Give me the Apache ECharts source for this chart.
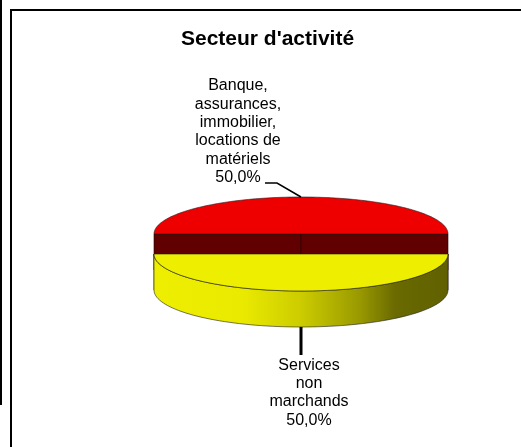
<!DOCTYPE html>
<html>
<head>
<meta charset="utf-8">
<script src="https://cdn.jsdelivr.net/npm/echarts@6/dist/echarts.min.js"></script>
<style>
html, body { margin:0; padding:0; background:#fff; }
#chart { width:521px; height:447px; }
</style>
</head>
<body>
<div id="chart"></div>
<script>
// donnees
var categories = ['Banque,\nassurances,\nimmobilier,\nlocations de\nmatériels', 'Services\nnon\nmarchands'];
var values = [50.0, 50.0];

// apparence
var sliceColors = ['#ee0000', '#eeee00'];
var faceColors = ['#600000', '#707000'];
var explodeY = [0, 20];
var PIE = { cx: 301, cy: 234, rx: 147, ry: 37, depth: 36, start: Math.PI };
var labelLayout = [
    { leader: [[-24, -14], [-36, -14]], lw: 1.5, tx: -63, ty: -10, va: 'bottom' },
    { leader: [[0, 28]], lw: 3, tx: 8, ty: 29, va: 'top' }
];

var wallGradient = {
    type: 'linear', global: true,
    x: PIE.cx - PIE.rx, y: 0, x2: PIE.cx + PIE.rx, y2: 0,
    colorStops: [
        { offset: 0, color: '#eeee00' },
        { offset: 0.3, color: '#eaea00' },
        { offset: 0.5, color: '#cccc00' },
        { offset: 0.7, color: '#999900' },
        { offset: 0.82, color: '#6a6a00' },
        { offset: 1, color: '#606000' }
    ]
};
var wallFills = ['#600000', wallGradient];

function fmtPct(v, total) {
    return (v / total * 100).toFixed(1).replace('.', ',') + '%';
}

function pt(a, cy, dy) {
    return [PIE.cx + PIE.rx * Math.cos(a), cy + PIE.ry * Math.sin(a) + (dy || 0)];
}

function renderSlice(params, api) {
    var i = params.dataIndex;
    var total = 0, before = 0;
    for (var j = 0; j < values.length; j++) {
        total += values[j];
        if (j < i) before += values[j];
    }
    var start = PIE.start + before / total * Math.PI * 2;
    var end = start + values[i] / total * Math.PI * 2;
    var cy = PIE.cy + explodeY[i];
    var d = PIE.depth;
    var edge = { stroke: 'rgba(30,30,30,0.75)', lineWidth: 0.8 };
    var children = [];

    // faces radiales
    [start, end].forEach(function (a) {
        var p = pt(a, cy);
        children.push({
            type: 'polygon',
            shape: { points: [[PIE.cx, cy], p, [p[0], p[1] + d], [PIE.cx, cy + d]] },
            style: { fill: faceColors[i], stroke: '#200000', lineWidth: 0.6 }
        });
    });

    // paroi exterieure (partie visible, sin > 0)
    for (var k = 0; k < 3; k++) {
        var lo = Math.max(start, 2 * k * Math.PI);
        var hi = Math.min(end, 2 * k * Math.PI + Math.PI);
        if (hi - lo > 1e-3) {
            var up = [], down = [];
            for (var s = 0; s <= 80; s++) {
                var a = lo + (hi - lo) * s / 80;
                up.push(pt(a, cy));
                down.unshift(pt(a, cy, d));
            }
            children.push({
                type: 'polygon',
                shape: { points: up.concat(down) },
                style: { fill: wallFills[i], stroke: edge.stroke, lineWidth: edge.lineWidth }
            });
        }
    }

    // dessus
    var top = [[PIE.cx, cy]];
    for (var s2 = 0; s2 <= 120; s2++) {
        top.push(pt(start + (end - start) * s2 / 120, cy));
    }
    children.push({
        type: 'polygon',
        shape: { points: top },
        style: { fill: sliceColors[i], stroke: edge.stroke, lineWidth: edge.lineWidth }
    });

    // etiquette
    var mid = (start + end) / 2;
    var anchor = Math.sin(mid) < 0 ? pt(mid, cy) : pt(mid, cy, d);
    var lay = labelLayout[i];
    var line = [anchor];
    lay.leader.forEach(function (o) { line.push([anchor[0] + o[0], anchor[1] + o[1]]); });
    children.push({
        type: 'polyline',
        shape: { points: line },
        style: { stroke: '#000', lineWidth: lay.lw, fill: null }
    });
    children.push({
        type: 'text',
        x: anchor[0] + lay.tx,
        y: anchor[1] + lay.ty,
        style: {
            text: categories[i] + '\n' + fmtPct(values[i], total),
            fill: '#000',
            font: '16px "Liberation Sans", Arial, sans-serif',
            align: 'center', textAlign: 'center',
            verticalAlign: lay.va, textVerticalAlign: lay.va,
            lineHeight: 18.4
        }
    });

    return { type: 'group', children: children };
}

var chart = echarts.init(document.getElementById('chart'), null, { renderer: 'canvas' });
chart.setOption({
    backgroundColor: '#fff',
    animation: false,
    title: {
        text: "Secteur d'activité",
        left: 176,
        top: 24,
        textStyle: {
            fontFamily: '"Liberation Sans", Arial, sans-serif',
            fontSize: 21,
            fontWeight: 'bold',
            color: '#000'
        }
    },
    graphic: [
        { type: 'line', shape: { x1: 1, y1: 0, x2: 1, y2: 405 }, style: { stroke: '#000', lineWidth: 2 } },
        { type: 'line', shape: { x1: 11, y1: 10, x2: 521, y2: 10 }, style: { stroke: '#000', lineWidth: 2 } },
        { type: 'line', shape: { x1: 11, y1: 9, x2: 11, y2: 447 }, style: { stroke: '#000', lineWidth: 2 } }
    ],
    series: [{
        type: 'custom',
        coordinateSystem: 'none',
        silent: true,
        renderItem: renderSlice,
        data: values.map(function (v, i) { return { value: v, name: categories[i] }; })
    }]
});
</script>
</body>
</html>
